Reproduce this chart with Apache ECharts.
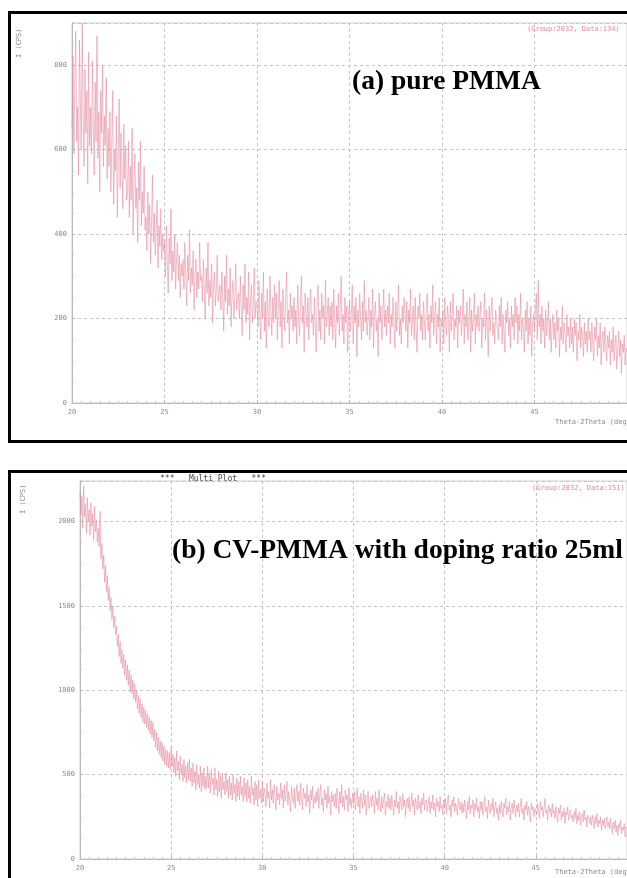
<!DOCTYPE html>
<html>
<head>
<meta charset="utf-8">
<script src="https://cdn.jsdelivr.net/npm/echarts@6/dist/echarts.min.js"></script>
<style>
  html, body { margin: 0; padding: 0; background: #ffffff; }
  #chart { width: 627px; height: 878px; }
</style>
</head>
<body>
<div id="chart"></div>
<script>
// Scan settings: 2θ from 20° in 0.05° steps, one row of twenty readings per degree
const scanStart = 20;
const scanStep = 0.05;

// (a) pure PMMA, intensity in counts (CPS)
const pmmaCounts = [
  [650, 820, 590, 760, 880, 620, 700, 540, 860, 720, 600, 900, 680, 560, 790, 640, 740, 520, 830, 610], // 20°
  [700, 590, 810, 660, 540, 760, 620, 870, 580, 690, 500, 740, 640, 800, 560, 680, 610, 770, 530, 650], // 21°
  [560, 690, 500, 620, 740, 470, 600, 550, 680, 440, 590, 720, 510, 640, 560, 460, 660, 530, 610, 480], // 22°
  [500, 620, 440, 560, 480, 650, 400, 530, 590, 460, 510, 380, 570, 480, 620, 420, 500, 450, 560, 410], // 23°
  [440, 360, 500, 400, 470, 330, 430, 540, 380, 450, 350, 410, 480, 320, 420, 370, 460, 340, 400, 360], // 24°
  [380, 300, 420, 340, 260, 390, 330, 460, 290, 360, 310, 400, 270, 340, 380, 290, 350, 250, 330, 300], // 25°
  [340, 270, 380, 300, 230, 350, 290, 410, 260, 320, 280, 360, 220, 300, 340, 250, 310, 270, 380, 290], // 26°
  [300, 240, 340, 270, 200, 320, 260, 380, 230, 290, 250, 330, 190, 280, 310, 230, 270, 350, 240, 260], // 27°
  [280, 220, 310, 250, 170, 300, 240, 350, 210, 270, 230, 320, 180, 260, 290, 200, 250, 330, 220, 240], // 28°
  [260, 200, 300, 230, 160, 280, 220, 330, 190, 250, 210, 310, 150, 240, 280, 190, 230, 320, 200, 240], // 29°
  [230, 180, 290, 210, 150, 260, 200, 310, 170, 240, 130, 270, 210, 180, 300, 220, 160, 250, 190, 280], // 30°
  [200, 260, 150, 230, 290, 180, 240, 130, 270, 210, 170, 250, 310, 190, 220, 140, 260, 200, 230, 170], // 31°
  [250, 180, 220, 140, 280, 200, 160, 240, 300, 190, 230, 120, 260, 210, 180, 250, 150, 220, 270, 190], // 32°
  [210, 160, 250, 190, 120, 240, 280, 170, 220, 150, 260, 200, 230, 140, 290, 180, 210, 250, 160, 230], // 33°
  [180, 240, 150, 270, 200, 130, 230, 190, 260, 160, 220, 300, 170, 210, 140, 250, 190, 230, 120, 210], // 34°
  [240, 170, 210, 280, 140, 230, 190, 250, 110, 220, 180, 260, 200, 150, 240, 170, 290, 190, 220, 160], // 35°
  [200, 250, 150, 220, 180, 270, 130, 210, 240, 170, 200, 110, 260, 190, 230, 150, 210, 270, 180, 220], // 36°
  [160, 230, 190, 260, 140, 210, 180, 250, 200, 130, 240, 170, 220, 280, 160, 200, 140, 230, 190, 250], // 37°
  [210, 170, 240, 130, 220, 190, 270, 160, 200, 230, 150, 250, 180, 120, 230, 200, 260, 170, 210, 150], // 38°
  [240, 190, 150, 220, 260, 170, 210, 130, 230, 190, 280, 160, 200, 240, 140, 210, 180, 250, 120, 200], // 39°
  [180, 220, 140, 250, 190, 160, 230, 200, 120, 240, 170, 210, 260, 150, 200, 180, 230, 130, 220, 190], // 40°
  [230, 160, 200, 270, 140, 210, 180, 240, 150, 190, 250, 120, 220, 170, 200, 260, 140, 210, 180, 230], // 41°
  [170, 210, 240, 130, 200, 180, 260, 150, 220, 190, 110, 230, 170, 210, 250, 160, 190, 140, 220, 200], // 42°
  [200, 150, 230, 180, 250, 140, 210, 170, 120, 220, 190, 240, 160, 200, 130, 230, 180, 210, 150, 250], // 43°
  [190, 230, 140, 210, 170, 260, 150, 200, 180, 120, 220, 170, 240, 140, 200, 160, 230, 110, 190, 210], // 44°
  [170, 220, 260, 150, 290, 180, 210, 140, 230, 170, 200, 130, 220, 160, 190, 240, 150, 200, 120, 180], // 45°
  [210, 150, 190, 130, 220, 170, 200, 110, 180, 150, 230, 140, 190, 170, 120, 210, 160, 180, 130, 200], // 46°
  [140, 180, 120, 200, 160, 190, 100, 170, 150, 210, 130, 180, 160, 110, 190, 140, 170, 120, 200, 150], // 47°
  [170, 120, 190, 140, 100, 180, 150, 200, 110, 160, 130, 190, 90, 150, 170, 120, 180, 140, 100, 160],  // 48°
  [130, 170, 90, 150, 120, 180, 100, 140, 160, 80, 130, 170, 110, 150, 70, 140, 120, 160, 90, 130],     // 49°
  [120]                                                                                                 // 50°
];

// (b) CV-PMMA with doping ratio 25 ml, intensity in counts (CPS)
const cvPmmaCounts = [
  [2180, 2040, 2150, 1960, 2210, 2030, 2100, 1930, 2140, 2000, 2070, 1920, 2110, 1970, 2050, 1890, 2090, 1940, 2010, 1880], // 20°
  [1960, 1850, 2060, 1780, 1870, 1720, 1800, 1640, 1740, 1580, 1680, 1530, 1610, 1470, 1550, 1420, 1500, 1370, 1440, 1330], // 21°
  [1380, 1260, 1330, 1200, 1290, 1160, 1240, 1130, 1210, 1090, 1180, 1060, 1150, 1030, 1120, 990, 1090, 980, 1060, 950],    // 22°
  [1040, 930, 1000, 890, 970, 860, 950, 840, 920, 810, 900, 800, 880, 780, 860, 760, 840, 740, 820, 720],                   // 23°
  [810, 700, 770, 660, 750, 640, 720, 620, 700, 600, 690, 580, 670, 560, 650, 550, 640, 540, 630, 530],                     // 24°
  [660, 550, 620, 510, 600, 490, 640, 520, 580, 470, 610, 500, 560, 460, 590, 480, 550, 450, 570, 470],                     // 25°
  [590, 460, 540, 430, 570, 450, 520, 410, 560, 440, 500, 420, 550, 400, 510, 430, 540, 410, 490, 420],                     // 26°
  [550, 420, 510, 390, 530, 440, 480, 380, 540, 410, 470, 370, 520, 400, 490, 360, 510, 410, 460, 380],                     // 27°
  [510, 400, 470, 360, 490, 380, 450, 350, 500, 390, 440, 340, 480, 370, 460, 350, 490, 380, 430, 340],                     // 28°
  [480, 370, 450, 340, 470, 360, 430, 330, 490, 380, 420, 320, 460, 350, 440, 310, 470, 360, 410, 330],                     // 29°
  [460, 340, 420, 380, 310, 450, 360, 400, 300, 470, 350, 410, 330, 440, 370, 290, 430, 350, 390, 320],                     // 30°
  [450, 360, 410, 300, 440, 340, 390, 460, 320, 400, 350, 280, 430, 370, 330, 420, 300, 380, 440, 340],                     // 31°
  [400, 320, 450, 350, 290, 420, 360, 390, 310, 440, 340, 380, 270, 410, 350, 430, 300, 370, 330, 400],                     // 32°
  [340, 420, 300, 380, 440, 320, 360, 280, 410, 350, 390, 300, 430, 330, 370, 260, 400, 340, 380, 310],                     // 33°
  [390, 300, 420, 350, 270, 400, 330, 440, 310, 370, 290, 410, 350, 380, 280, 420, 320, 360, 300, 390],                     // 34°
  [330, 400, 290, 360, 420, 310, 370, 270, 390, 340, 300, 410, 320, 380, 260, 350, 400, 300, 340, 370],                     // 35°
  [310, 380, 340, 270, 400, 320, 360, 290, 410, 330, 280, 370, 300, 350, 390, 260, 340, 310, 380, 300],                     // 36°
  [360, 290, 380, 320, 260, 350, 310, 400, 300, 340, 270, 370, 330, 290, 390, 310, 350, 250, 330, 360],                     // 37°
  [300, 370, 280, 340, 390, 310, 350, 260, 360, 320, 290, 380, 300, 340, 270, 360, 320, 390, 290, 330],                     // 38°
  [350, 280, 320, 370, 270, 340, 300, 380, 290, 330, 250, 360, 310, 340, 280, 370, 300, 320, 260, 350],                     // 39°
  [300, 360, 270, 340, 380, 290, 320, 250, 350, 310, 370, 280, 330, 300, 260, 360, 320, 290, 340, 270],                     // 40°
  [330, 280, 350, 300, 240, 340, 290, 370, 270, 320, 300, 350, 250, 330, 290, 360, 280, 310, 240, 340],                     // 41°
  [290, 340, 260, 320, 370, 280, 310, 240, 350, 300, 270, 330, 290, 360, 250, 310, 340, 270, 300, 230],                     // 42°
  [320, 270, 340, 290, 250, 330, 300, 360, 260, 310, 280, 340, 230, 300, 330, 270, 350, 290, 250, 320],                     // 43°
  [280, 330, 250, 310, 360, 270, 300, 230, 320, 290, 340, 260, 310, 280, 220, 330, 290, 310, 250, 300],                     // 44°
  [310, 260, 330, 280, 240, 340, 290, 310, 250, 300, 360, 270, 290, 230, 320, 280, 300, 250, 330, 270],                     // 45°
  [290, 240, 310, 260, 220, 300, 270, 320, 230, 280, 250, 300, 210, 280, 260, 310, 230, 270, 290, 240],                     // 46°
  [260, 220, 280, 240, 300, 210, 260, 230, 280, 200, 250, 270, 220, 290, 230, 250, 190, 260, 240, 210],                     // 47°
  [250, 200, 260, 220, 180, 250, 210, 270, 190, 230, 210, 250, 170, 230, 200, 240, 180, 220, 250, 190],                     // 48°
  [220, 180, 240, 190, 150, 220, 180, 230, 160, 200, 140, 210, 180, 230, 150, 190, 170, 210, 130, 190],                     // 49°
  [180]                                                                                                                     // 50°
];

// Axis ticks
const angleTicks = [20, 25, 30, 35, 40, 45, 50];
const pmmaTicks = [0, 200, 400, 600, 800];
const cvPmmaTicks = [0, 500, 1000, 1500, 2000];

const panelTitles = ['(a) pure PMMA', '(b) CV-PMMA with doping ratio 25ml'];
const groupTags = ['(Group:2032, Data:134)', '(Group:2032, Data:151)'];

// Pair each reading with its 2θ position
function toPoints(rows) {
  const pts = [];
  rows.forEach((row, d) => {
    row.forEach((v, k) => {
      const angle = +(scanStart + d + k * scanStep).toFixed(2);
      pts.push([angle, v]);
    });
  });
  return pts;
}

const labelFont = { fontFamily: 'DejaVu Sans Mono', fontSize: 7, color: '#8a8a8a' };
const dashLine = { show: true, lineStyle: { color: '#c4c4c4', type: [3, 3], width: 1 } };

function xAxisFor(gridIndex) {
  return {
    gridIndex, type: 'value',
    min: angleTicks[0], max: angleTicks[angleTicks.length - 1], interval: 5,
    axisLine: { show: true, lineStyle: { color: '#b8b8b8', width: 1 } },
    axisTick: { show: true, inside: true, length: 3, lineStyle: { color: '#b8b8b8' } },
    minorTick: { show: true, splitNumber: 10, length: 2, lineStyle: { color: '#c8c8c8' } },
    axisLabel: Object.assign({ margin: 6, showMaxLabel: false }, labelFont),
    splitLine: dashLine
  };
}

function yAxisFor(gridIndex, ticks, max) {
  const step = ticks[1] - ticks[0];
  return {
    gridIndex, type: 'value', min: 0, max, interval: step,
    axisLine: { show: true, lineStyle: { color: '#b8b8b8', width: 1 } },
    axisTick: { show: true, inside: true, length: 3, lineStyle: { color: '#b8b8b8' } },
    minorTick: { show: true, splitNumber: 4, length: 2, lineStyle: { color: '#c8c8c8' } },
    axisLabel: Object.assign({ margin: 5, showMaxLabel: false, formatter: v => String(v) }, labelFont),
    splitLine: dashLine
  };
}

const traceStyle = { color: '#e58da1', width: 0.65, opacity: 0.9 };
const titleFont = 'bold 27.5px "Liberation Serif"';

const option = {
  backgroundColor: '#ffffff',
  animation: false,
  grid: [
    { left: 72, right: -3, top: 23, bottom: 475, show: true, borderColor: '#d0d0d0', borderWidth: 1 },
    { left: 80, right: -2, top: 481, bottom: 19, show: true, borderColor: '#d0d0d0', borderWidth: 1 }
  ],
  xAxis: [xAxisFor(0), xAxisFor(1)],
  yAxis: [yAxisFor(0, pmmaTicks, 900), yAxisFor(1, cvPmmaTicks, 2240)],
  series: [
    { type: 'line', xAxisIndex: 0, yAxisIndex: 0, data: toPoints(pmmaCounts),
      showSymbol: false, lineStyle: traceStyle, z: 3 },
    { type: 'line', xAxisIndex: 1, yAxisIndex: 1, data: toPoints(cvPmmaCounts),
      showSymbol: false, lineStyle: traceStyle, z: 3 }
  ],
  graphic: [
    // panel frames
    { type: 'rect', shape: { x: 9.5, y: 12.5, width: 700, height: 429 },
      style: { fill: 'none', stroke: '#000', lineWidth: 3 }, z: 10 },
    { type: 'rect', shape: { x: 9.5, y: 471.5, width: 700, height: 500 },
      style: { fill: 'none', stroke: '#000', lineWidth: 3 }, z: 10 },
    // panel titles
    { type: 'text', left: 352, top: 68, z: 10,
      style: { text: panelTitles[0], font: titleFont, fill: '#000' } },
    { type: 'text', left: 172, top: 537, z: 10,
      style: { text: panelTitles[1], font: titleFont, fill: '#000' } },
    // instrument annotations
    { type: 'text', x: 527, y: 26, z: 10,
      style: { text: groupTags[0], font: '7px "DejaVu Sans Mono"', fill: '#e3889d' } },
    { type: 'text', x: 532, y: 485, z: 10,
      style: { text: groupTags[1], font: '7px "DejaVu Sans Mono"', fill: '#e3889d' } },
    { type: 'text', x: 160, y: 475, z: 10,
      style: { text: '***   Multi Plot   ***', font: '8px "DejaVu Sans Mono"', fill: '#444' } },
    { type: 'text', x: 555, y: 419, z: 10,
      style: { text: 'Theta-2Theta (deg)', font: '7px "DejaVu Sans Mono"', fill: '#8a8a8a' } },
    { type: 'text', x: 555, y: 869, z: 10,
      style: { text: 'Theta-2Theta (deg)', font: '7px "DejaVu Sans Mono"', fill: '#8a8a8a' } },
    { type: 'text', x: 16, y: 58, rotation: Math.PI / 2, z: 10,
      style: { text: 'I (CPS)', font: '7px "DejaVu Sans Mono"', fill: '#8a8a8a' } },
    { type: 'text', x: 20, y: 514, rotation: Math.PI / 2, z: 10,
      style: { text: 'I (CPS)', font: '7px "DejaVu Sans Mono"', fill: '#8a8a8a' } }
  ]
};

const chart = echarts.init(document.getElementById('chart'), null, { renderer: 'canvas' });
chart.setOption(option);
</script>
</body>
</html>
